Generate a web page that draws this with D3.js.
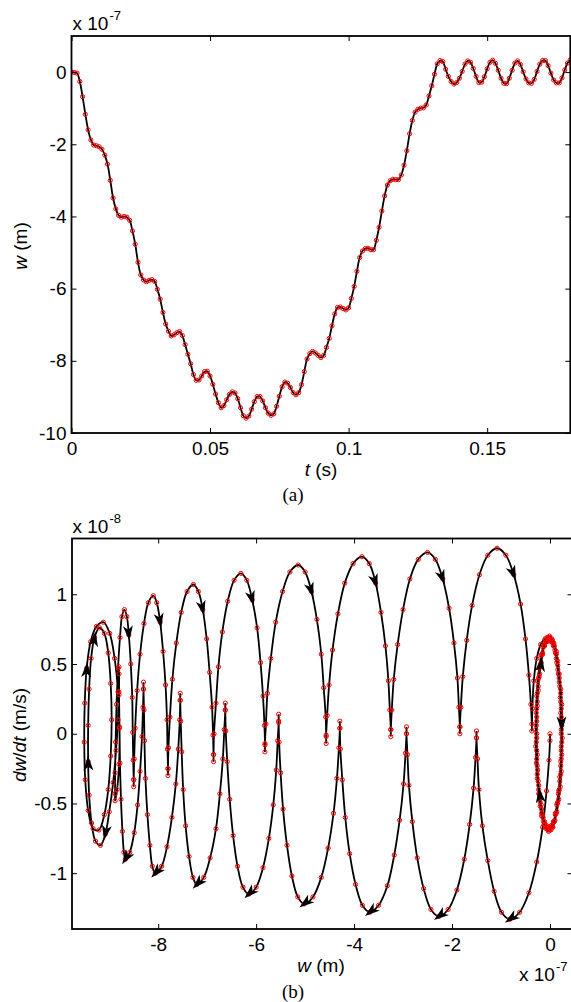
<!DOCTYPE html>
<html>
<head>
<meta charset="utf-8">
<script src="https://cdn.jsdelivr.net/npm/d3@7"></script>
<style>
  body { margin: 0; background: #fff; }
  svg { display: block; font-family: "Liberation Sans", Arial, sans-serif; }
</style>
</head>
<body>
<script>
// ---- data (a): displacement w (x 1e-7 m) sampled every 1 ms ----
const sampleStep = 0.001;
const wDisp = [
  0.00, -0.01, -0.03, -0.26, -0.68, -1.17, -1.60, -1.88, -2.02, -2.04,
  -2.07, -2.14, -2.30, -2.55, -3.00, -3.49, -3.79, -3.97, -4.02, -4.00,
  -4.02, -4.11, -4.40, -4.77, -5.27, -5.62, -5.76, -5.81, -5.77, -5.75,
  -5.80, -6.02, -6.29, -6.66, -6.98, -7.18, -7.31, -7.28, -7.22, -7.19,
  -7.30, -7.55, -7.82, -8.08, -8.38, -8.54, -8.53, -8.42, -8.30, -8.29,
  -8.42, -8.65, -8.92, -9.16, -9.30, -9.24, -9.08, -8.93, -8.86, -8.89,
  -9.05, -9.30, -9.52, -9.59, -9.53, -9.34, -9.13, -8.99, -8.99, -9.11,
  -9.30, -9.45, -9.51, -9.47, -9.26, -8.98, -8.72, -8.59, -8.62, -8.74,
  -8.88, -8.94, -8.88, -8.66, -8.30, -7.95, -7.80, -7.74, -7.78, -7.85,
  -7.91, -7.85, -7.63, -7.38, -7.03, -6.70, -6.52, -6.51, -6.55, -6.59,
  -6.53, -6.27, -5.94, -5.52, -5.14, -4.96, -4.89, -4.88, -4.92, -4.92,
  -4.66, -4.30, -3.85, -3.43, -3.13, -3.01, -2.97, -2.98, -2.98, -2.85,
  -2.58, -2.18, -1.71, -1.34, -1.11, -1.03, -1.00, -0.99, -0.91, -0.66,
  -0.38, -0.06, 0.23, 0.32, 0.29, 0.08, -0.12, -0.26, -0.33, -0.29,
  -0.17, 0.02, 0.22, 0.31, 0.27, 0.10, -0.12, -0.29, -0.28, -0.13,
  0.09, 0.27, 0.33, 0.24, 0.05, -0.17, -0.31, -0.32, -0.17, 0.05,
  0.25, 0.31, 0.21, 0.01, -0.19, -0.30, -0.31, -0.20, 0.02, 0.22,
  0.32, 0.32, 0.18, -0.03, -0.22, -0.30, -0.30, -0.16, 0.06, 0.25,
  0.34
];
const tTicks = [0, 0.05, 0.1, 0.15];
const wTicks = [0, -2, -4, -6, -8, -10];

// ---- data (b): phase trajectory, w (x 1e-7 m) and dw/dt (x 1e-8 m/s) ----
const phaseW = [
  0.00, -0.00, -0.02, -0.07, -0.15, -0.27, -0.43, -0.62, -0.82, -0.99, -1.14, -1.27, -1.38, -1.45, -1.48, -1.50,
  -1.50, -1.50, -1.52, -1.56, -1.64, -1.75, -1.90, -2.08, -2.27, -2.43, -2.58, -2.71, -2.81, -2.88, -2.91, -2.93,
  -2.93, -2.93, -2.95, -2.99, -3.07, -3.18, -3.32, -3.50, -3.68, -3.83, -3.97, -4.09, -4.18, -4.24, -4.28, -4.29,
  -4.29, -4.29, -4.31, -4.35, -4.42, -4.53, -4.67, -4.84, -5.02, -5.15, -5.27, -5.37, -5.45, -5.50, -5.53, -5.54,
  -5.54, -5.54, -5.56, -5.59, -5.65, -5.74, -5.86, -6.00, -6.15, -6.27, -6.38, -6.47, -6.54, -6.59, -6.62, -6.63,
  -6.63, -6.63, -6.65, -6.68, -6.74, -6.82, -6.94, -7.07, -7.21, -7.29, -7.37, -7.44, -7.49, -7.52, -7.54, -7.55,
  -7.55, -7.55, -7.56, -7.59, -7.64, -7.72, -7.82, -7.93, -8.06, -8.12, -8.17, -8.22, -8.26, -8.28, -8.29, -8.30,
  -8.30, -8.30, -8.31, -8.33, -8.37, -8.42, -8.49, -8.58, -8.67, -8.70, -8.73, -8.76, -8.78, -8.79, -8.80, -8.80,
  -8.80, -8.80, -8.82, -8.86, -8.92, -9.00, -9.08, -9.18, -9.28, -9.36, -9.41, -9.43, -9.43, -9.41, -9.37, -9.30,
  -9.20, -9.10, -9.02, -8.97, -8.95, -8.97, -9.02, -9.10, -9.21, -9.33, -9.43, -9.49, -9.51, -9.50, -9.46, -9.38,
  -9.26, -9.12, -8.99, -8.89, -8.82, -8.79, -8.80, -8.84,
  -8.88, -8.88, -8.88, -8.87, -8.85, -8.82, -8.78, -8.74, -8.69, -8.64, -8.60, -8.56, -8.53, -8.52, -8.51, -8.50,
  -8.50, -8.50, -8.49, -8.47, -8.43, -8.37, -8.29, -8.20, -8.10, -8.03, -7.96, -7.90, -7.85, -7.82, -7.81, -7.80,
  -7.80, -7.80, -7.79, -7.76, -7.71, -7.63, -7.53, -7.41, -7.28, -7.18, -7.09, -7.01, -6.95, -6.90, -6.88, -6.87,
  -6.87, -6.87, -6.86, -6.82, -6.77, -6.69, -6.58, -6.45, -6.31, -6.19, -6.08, -5.98, -5.91, -5.86, -5.83, -5.82,
  -5.82, -5.82, -5.80, -5.77, -5.70, -5.60, -5.46, -5.31, -5.14, -5.00, -4.87, -4.76, -4.67, -4.62, -4.58, -4.57,
  -4.57, -4.57, -4.55, -4.51, -4.44, -4.33, -4.19, -4.02, -3.84, -3.69, -3.56, -3.45, -3.36, -3.30, -3.27, -3.25,
  -3.25, -3.25, -3.23, -3.19, -3.11, -3.00, -2.86, -2.69, -2.50, -2.34, -2.19, -2.06, -1.96, -1.89, -1.86, -1.84,
  -1.84, -1.84, -1.82, -1.78, -1.70, -1.59, -1.44, -1.27, -1.08, -0.90, -0.74, -0.60, -0.50, -0.43, -0.39, -0.37,
  -0.37, -0.36, -0.33, -0.27, -0.19, -0.10,
  -0.02, 0.02, 0.07, 0.11, 0.14, 0.17, 0.20, 0.22, 0.23, 0.23, 0.23, 0.22, 0.20, 0.17, 0.14, 0.11, 0.07, 0.02,
  -0.02, -0.06, -0.11, -0.15, -0.18, -0.21, -0.24, -0.26, -0.27, -0.27, -0.27, -0.26, -0.24, -0.21, -0.18, -0.15, -0.11, -0.06,
  0.00, 0.05, 0.09, 0.13, 0.16, 0.19, 0.22, 0.23, 0.24, 0.24, 0.23, 0.22, 0.19, 0.16, 0.13, 0.09, 0.05, 0.00,
  -0.04, -0.09, -0.13, -0.17, -0.20, -0.23, -0.26, -0.27, -0.28, -0.28, -0.27, -0.26, -0.23, -0.20, -0.17, -0.13, -0.09, -0.04,
  -0.01, 0.04, 0.08, 0.13, 0.16, 0.19, 0.22, 0.24, 0.25, 0.25, 0.24, 0.23, 0.21, 0.18, 0.14, 0.10, 0.06, 0.02,
  -0.03, -0.08, -0.12, -0.17, -0.20, -0.23, -0.26, -0.28, -0.29, -0.29, -0.28, -0.27, -0.25, -0.22, -0.18, -0.14, -0.10, -0.06,
  0.01, 0.06, 0.10, 0.13, 0.16, 0.19, 0.21, 0.22, 0.23, 0.23, 0.22, 0.20, 0.18, 0.15, 0.11, 0.08, 0.03, -0.01,
  -0.05, -0.10, -0.14, -0.17, -0.20, -0.23, -0.25, -0.26, -0.27, -0.27, -0.26, -0.24, -0.22, -0.19, -0.15, -0.12, -0.07, -0.03
];
const phaseV = [
  0.00, -0.05, -0.19, -0.41, -0.67, -0.92, -1.14, -1.28, -1.33, -1.28, -1.13, -0.91, -0.66, -0.40, -0.18, -0.03,
  0.02, -0.03, -0.17, -0.39, -0.65, -0.90, -1.12, -1.26, -1.31, -1.26, -1.11, -0.89, -0.63, -0.37, -0.15, 0.00,
  0.05, 0.00, -0.14, -0.36, -0.62, -0.87, -1.09, -1.23, -1.28, -1.23, -1.08, -0.86, -0.60, -0.33, -0.11, 0.04,
  0.09, 0.04, -0.10, -0.32, -0.57, -0.82, -1.03, -1.17, -1.22, -1.17, -1.02, -0.80, -0.54, -0.28, -0.06, 0.08,
  0.14, 0.09, -0.05, -0.26, -0.51, -0.75, -0.96, -1.10, -1.15, -1.10, -0.95, -0.73, -0.47, -0.20, 0.02, 0.17,
  0.22, 0.17, 0.03, -0.18, -0.43, -0.68, -0.89, -1.03, -1.08, -1.03, -0.88, -0.66, -0.40, -0.13, 0.09, 0.24,
  0.29, 0.24, 0.10, -0.11, -0.36, -0.60, -0.81, -0.95, -1.00, -0.95, -0.80, -0.58, -0.32, -0.05, 0.17, 0.32,
  0.37, 0.32, 0.19, -0.02, -0.27, -0.51, -0.71, -0.85, -0.90, -0.85, -0.70, -0.47, -0.21, 0.05, 0.28, 0.43,
  0.48, 0.30, 0.10, -0.12, -0.35, -0.56, -0.72, -0.80, -0.77, -0.64, -0.44, -0.20, 0.06, 0.32, 0.54, 0.69,
  0.76, 0.72, 0.58, 0.36, 0.10, -0.16, -0.40, -0.58, -0.69, -0.68, -0.55, -0.33, -0.06, 0.22, 0.47, 0.66,
  0.77, 0.80, 0.72, 0.54, 0.30, 0.04, -0.22, -0.40,
  -0.48, -0.43, -0.28, -0.06, 0.21, 0.47, 0.69, 0.84, 0.89, 0.84, 0.71, 0.50, 0.26, 0.01, -0.19, -0.33,
  -0.38, -0.33, -0.18, 0.04, 0.31, 0.57, 0.79, 0.94, 0.99, 0.94, 0.80, 0.59, 0.35, 0.10, -0.11, -0.25,
  -0.30, -0.25, -0.10, 0.12, 0.39, 0.65, 0.87, 1.02, 1.07, 1.02, 0.89, 0.68, 0.44, 0.19, -0.01, -0.15,
  -0.20, -0.15, 0.00, 0.22, 0.48, 0.73, 0.95, 1.10, 1.15, 1.10, 0.96, 0.76, 0.51, 0.27, 0.06, -0.08,
  -0.13, -0.07, 0.07, 0.29, 0.54, 0.80, 1.02, 1.16, 1.21, 1.16, 1.02, 0.82, 0.57, 0.33, 0.12, -0.02,
  -0.07, -0.01, 0.13, 0.35, 0.60, 0.86, 1.08, 1.22, 1.27, 1.22, 1.08, 0.87, 0.63, 0.38, 0.17, 0.03,
  -0.02, 0.03, 0.17, 0.39, 0.64, 0.89, 1.11, 1.25, 1.30, 1.25, 1.11, 0.90, 0.65, 0.40, 0.19, 0.05,
  0.00, 0.05, 0.19, 0.41, 0.67, 0.92, 1.14, 1.28, 1.33, 1.28, 1.14, 0.93, 0.68, 0.42, 0.21, 0.07,
  0.02, 0.18, 0.38, 0.54, 0.64, 0.68,
  0.67, 0.66, 0.63, 0.58, 0.51, 0.43, 0.34, 0.23, 0.12, 0.00, -0.12, -0.23, -0.34, -0.43, -0.51, -0.58, -0.63, -0.66,
  -0.67, -0.66, -0.63, -0.58, -0.51, -0.43, -0.34, -0.23, -0.12, 0.00, 0.12, 0.23, 0.34, 0.43, 0.51, 0.58, 0.63, 0.66,
  0.69, 0.67, 0.63, 0.57, 0.49, 0.40, 0.29, 0.18, 0.06, -0.06, -0.18, -0.29, -0.40, -0.49, -0.57, -0.63, -0.67, -0.69,
  -0.69, -0.67, -0.63, -0.57, -0.49, -0.40, -0.29, -0.18, -0.06, 0.06, 0.18, 0.29, 0.40, 0.49, 0.57, 0.63, 0.67, 0.69,
  0.70, 0.68, 0.65, 0.59, 0.52, 0.43, 0.32, 0.21, 0.09, -0.03, -0.15, -0.27, -0.38, -0.47, -0.56, -0.62, -0.67, -0.69,
  -0.70, -0.68, -0.65, -0.59, -0.52, -0.43, -0.32, -0.21, -0.09, 0.03, 0.15, 0.27, 0.38, 0.47, 0.56, 0.62, 0.67, 0.69,
  0.67, 0.65, 0.60, 0.54, 0.46, 0.37, 0.26, 0.15, 0.03, -0.09, -0.20, -0.31, -0.41, -0.50, -0.57, -0.63, -0.66, -0.68,
  -0.67, -0.65, -0.60, -0.54, -0.46, -0.37, -0.26, -0.15, -0.03, 0.09, 0.20, 0.31, 0.41, 0.50, 0.57, 0.63, 0.66, 0.68
];
// indices of the trajectory points that carry a direction arrow
const arrowAt = [8, 24, 40, 56, 72, 88, 104, 120, 134, 139, 143, 158,
                 178, 194, 210, 226, 242, 258, 274, 290, 325, 334, 346];
const phaseWTicks = [-8, -6, -4, -2, 0];
const phaseVTicks = [-1, -0.5, 0, 0.5, 1];

const W = 571, H = 1002;
const svg = d3.select('body').append('svg')
  .attr('width', W)
  .attr('height', H);

// draw a boxed MATLAB-like frame with inward ticks on all four sides
function drawFrame(g, x, y, xTicks, yTicks) {
  const [x0, x1] = x.range();
  const [y0, y1] = y.range(); // y0 bottom, y1 top

  const fmt = d => String(d);
  g.append('g')
    .attr('transform', `translate(0,${y0})`)
    .call(d3.axisBottom(x).tickValues(xTicks).tickSize(-5).tickPadding(8.5).tickFormat(fmt))
    .call(a => a.select('.domain').remove());
  g.append('g')
    .attr('transform', `translate(0,${y1})`)
    .call(d3.axisTop(x).tickValues(xTicks).tickSize(-5).tickFormat(''))
    .call(a => a.select('.domain').remove());
  g.append('g')
    .attr('transform', `translate(${x0},0)`)
    .call(d3.axisLeft(y).tickValues(yTicks).tickSize(-5).tickPadding(5).tickFormat(fmt))
    .call(a => a.select('.domain').remove());
  g.append('g')
    .attr('transform', `translate(${x1},0)`)
    .call(d3.axisRight(y).tickValues(yTicks).tickSize(-5).tickFormat(''))
    .call(a => a.select('.domain').remove());

  g.selectAll('.tick text')
    .attr('font-size', 19)
    .attr('font-family', '"Liberation Sans", Arial, sans-serif')
    .attr('fill', '#000');
  g.selectAll('.tick line').attr('stroke', '#000').attr('stroke-width', 1);

  g.append('rect')
    .attr('x', x0).attr('y', y1)
    .attr('width', x1 - x0).attr('height', y0 - y1)
    .attr('fill', 'none')
    .attr('stroke', '#000')
    .attr('stroke-width', 1.8);
}

function addExponent(g, x, y, exp) {
  g.append('text').attr('x', x).attr('y', y).attr('font-size', 19).text('x 10');
  g.append('text').attr('x', x + 37).attr('y', y - 10).attr('font-size', 13).text(exp);
}

// ---- panel (a): w versus t ----
function createTimeChart() {
  const g = svg.append('g');
  const x = d3.scaleLinear().domain([0, 0.18]).range([71.5, 570.3]);
  const y = d3.scaleLinear().domain([-10, 1]).range([433, 36]);

  const pts = wDisp.map((w, i) => ({ t: i * sampleStep, w: w }));

  g.append('clipPath').attr('id', 'clipA')
    .append('rect').attr('x', 71.5).attr('y', 36).attr('width', 498.8).attr('height', 397);
  const plot = g.append('g').attr('clip-path', 'url(#clipA)');

  const line = d3.line()
    .x(d => x(d.t))
    .y(d => y(d.w))
    .curve(d3.curveCatmullRom);
  plot.append('path')
    .datum(pts)
    .attr('fill', 'none')
    .attr('stroke', '#000')
    .attr('stroke-width', 1.8)
    .attr('d', line);

  plot.selectAll('circle')
    .data(pts)
    .enter().append('circle')
    .attr('cx', d => x(d.t))
    .attr('cy', d => y(d.w))
    .attr('r', 2.1)
    .attr('fill', 'none')
    .attr('stroke', '#ff0000')
    .attr('stroke-width', 1);

  drawFrame(g, x, y, tTicks, wTicks);
  addExponent(g, 72.5, 29.5, '-7');

  g.append('text')
    .attr('x', 321).attr('y', 476)
    .attr('text-anchor', 'middle').attr('font-size', 19)
    .html('<tspan font-style="italic">t</tspan> (s)');
  g.append('text')
    .attr('transform', 'translate(27,246) rotate(-90)')
    .attr('text-anchor', 'middle').attr('font-size', 19)
    .html('<tspan font-style="italic">w</tspan> (m)');
  g.append('text')
    .attr('x', 293).attr('y', 501)
    .attr('text-anchor', 'middle').attr('font-size', 19)
    .attr('font-family', '"Liberation Serif", "Times New Roman", serif')
    .text('(a)');
}

// ---- panel (b): phase plane dw/dt versus w ----
function createPhaseChart() {
  const g = svg.append('g');
  const x = d3.scaleLinear().domain([-9.76, 0.46]).range([72, 572.5]);
  const y = d3.scaleLinear().domain([-1.4, 1.4]).range([929, 538.5]);

  const pts = phaseW.map((w, i) => ({ w: w, v: phaseV[i] }));

  g.append('clipPath').attr('id', 'clipB')
    .append('rect').attr('x', 72).attr('y', 538.5).attr('width', 500.5).attr('height', 390.5);
  const plot = g.append('g').attr('clip-path', 'url(#clipB)');

  const line = d3.line()
    .x(d => x(d.w))
    .y(d => y(d.v))
    .curve(d3.curveCatmullRom);
  plot.append('path')
    .datum(pts)
    .attr('fill', 'none')
    .attr('stroke', '#000')
    .attr('stroke-width', 1.8)
    .attr('d', line);

  plot.selectAll('circle')
    .data(pts)
    .enter().append('circle')
    .attr('cx', d => x(d.w))
    .attr('cy', d => y(d.v))
    .attr('r', 2.1)
    .attr('fill', 'none')
    .attr('stroke', '#ff0000')
    .attr('stroke-width', 1);

  // arrow heads along the trajectory
  arrowAt.forEach(i => {
    const xa = x(pts[i - 1].w), ya = y(pts[i - 1].v);
    const xb = x(pts[i].w), yb = y(pts[i].v);
    const ang = Math.atan2(yb - ya, xb - xa) * 180 / Math.PI;
    plot.append('path')
      .attr('d', 'M6,0L-9,-5L-5,0L-9,5Z')
      .attr('transform', `translate(${xb},${yb}) rotate(${ang})`)
      .attr('fill', '#000');
  });

  drawFrame(g, x, y, phaseWTicks, phaseVTicks);
  addExponent(g, 72.5, 533, '-8');
  addExponent(g, 519, 981, '-7');

  g.append('text')
    .attr('x', 321).attr('y', 972)
    .attr('text-anchor', 'middle').attr('font-size', 19)
    .html('<tspan font-style="italic">w</tspan> (m)');
  g.append('text')
    .attr('transform', 'translate(26,735) rotate(-90)')
    .attr('text-anchor', 'middle').attr('font-size', 19)
    .html('<tspan font-style="italic">dw</tspan>/<tspan font-style="italic">dt</tspan> (m/s)');
  g.append('text')
    .attr('x', 293).attr('y', 998)
    .attr('text-anchor', 'middle').attr('font-size', 19)
    .attr('font-family', '"Liberation Serif", "Times New Roman", serif')
    .text('(b)');
}

createTimeChart();
createPhaseChart();
</script>
</body>
</html>
